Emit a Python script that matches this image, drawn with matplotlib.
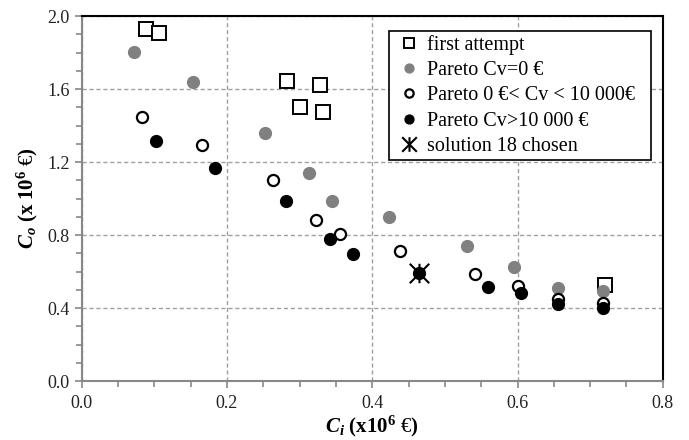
import matplotlib
matplotlib.use("Agg")
import matplotlib.pyplot as plt
from matplotlib.path import Path
from matplotlib.ticker import MultipleLocator, FormatStrFormatter

plt.rcParams['font.family'] = ['Liberation Serif', 'DejaVu Serif']
plt.rcParams['mathtext.fontset'] = 'custom'
plt.rcParams['mathtext.rm'] = 'Liberation Serif'
plt.rcParams['mathtext.it'] = 'Liberation Serif:italic'
plt.rcParams['mathtext.bf'] = 'Liberation Serif:bold'
plt.rcParams['mathtext.bfit'] = 'Liberation Serif:italic:bold'

# Data (x: Ci in 10^6 EUR, y: Co in 10^6 EUR)
first_x = [0.088, 0.106, 0.282, 0.328, 0.301, 0.332, 0.720]
first_y = [1.927, 1.908, 1.644, 1.620, 1.500, 1.472, 0.526]

p0_x = [0.072, 0.153, 0.252, 0.313, 0.345, 0.423, 0.531, 0.595, 0.656, 0.717]
p0_y = [1.801, 1.640, 1.361, 1.140, 0.985, 0.899, 0.738, 0.623, 0.508, 0.493]

pmid_x = [0.083, 0.165, 0.263, 0.323, 0.356, 0.438, 0.542, 0.601, 0.656, 0.717]
pmid_y = [1.447, 1.295, 1.101, 0.881, 0.804, 0.714, 0.588, 0.519, 0.448, 0.429]

phigh_x = [0.102, 0.183, 0.281, 0.342, 0.374, 0.464, 0.559, 0.605, 0.656, 0.717]
phigh_y = [1.317, 1.169, 0.985, 0.776, 0.698, 0.590, 0.515, 0.481, 0.424, 0.398]

chosen_x = [0.464]
chosen_y = [0.590]

labels = ["first attempt", "Pareto Cv=0 €", "Pareto 0 €< Cv < 10 000€",
          "Pareto Cv>10 000 €", "solution 18 chosen"]

star = Path([(-1, -1), (1, 1), (-1, 1), (1, -1), (0, -1), (0, 1)],
            [Path.MOVETO, Path.LINETO, Path.MOVETO, Path.LINETO, Path.MOVETO, Path.LINETO])

fig = plt.figure(figsize=(6.89, 4.40), dpi=100)
ax = fig.add_axes([0.1186, 0.134, 0.8434, 0.8296])

ax.plot(first_x, first_y, ls='none', marker='s', ms=10.5, mfc='white', mec='black', mew=1.4,
        label=labels[0], zorder=3)
ax.plot(p0_x, p0_y, ls='none', marker='o', ms=8.5, mfc='#808080', mec='#808080',
        label=labels[1], zorder=4)
ax.plot(pmid_x, pmid_y, ls='none', marker='o', ms=8, mfc='white', mec='black', mew=1.6,
        label=labels[2], zorder=5)
ax.plot(phigh_x, phigh_y, ls='none', marker='o', ms=8.5, mfc='black', mec='black',
        label=labels[3], zorder=6)
ax.plot(chosen_x, chosen_y, ls='none', marker=star, ms=14, mfc='none', mec='black', mew=1.5,
        label=labels[4], zorder=7)

ax.set_xlim(0, 0.8)
ax.set_ylim(0, 2.0)
ax.xaxis.set_major_locator(MultipleLocator(0.2))
ax.xaxis.set_minor_locator(MultipleLocator(0.05))
ax.yaxis.set_major_locator(MultipleLocator(0.4))
ax.yaxis.set_minor_locator(MultipleLocator(0.1))
ax.xaxis.set_major_formatter(FormatStrFormatter('%.1f'))
ax.yaxis.set_major_formatter(FormatStrFormatter('%.1f'))

ax.grid(True, which='major', ls=(0, (3, 2)), color='#a0a0a0', lw=1.0)
ax.set_axisbelow(True)

for s in ['left', 'bottom']:
    ax.spines[s].set_color('#888888')
    ax.spines[s].set_linewidth(1.5)
for s in ['top', 'right']:
    ax.spines[s].set_color('black')
    ax.spines[s].set_linewidth(1.5)

ax.tick_params(which='both', direction='out', color='#888888', width=1.2, labelsize=13,
               labelcolor='#222222')
ax.tick_params(which='major', length=5)
ax.tick_params(which='minor', length=4)
ax.tick_params(axis='x', pad=5)

ax.set_xlabel(r"$\mathbfit{C}_{\mathbfit{i}}$ $\mathbf{(x10^{6}\ \text{€})}$", fontsize=15, labelpad=1)
ax.set_ylabel(r"$\mathbfit{C}_{\mathbfit{o}}$ $\mathbf{(x\ 10^{6}\ \text{€})}$", fontsize=15, labelpad=5)

leg = ax.legend(loc='upper left', bbox_to_anchor=(0.5287, 0.619, 0.4506, 0.3405), mode='expand',
                fontsize=14.5, frameon=True, fancybox=False, edgecolor='black', framealpha=1,
                handlelength=1.6, handletextpad=0.05, borderpad=0.22, labelspacing=0.3,
                borderaxespad=0, markerscale=0.75)
leg.get_frame().set_linewidth(1.2)

fig.savefig("out.png", dpi=100)
